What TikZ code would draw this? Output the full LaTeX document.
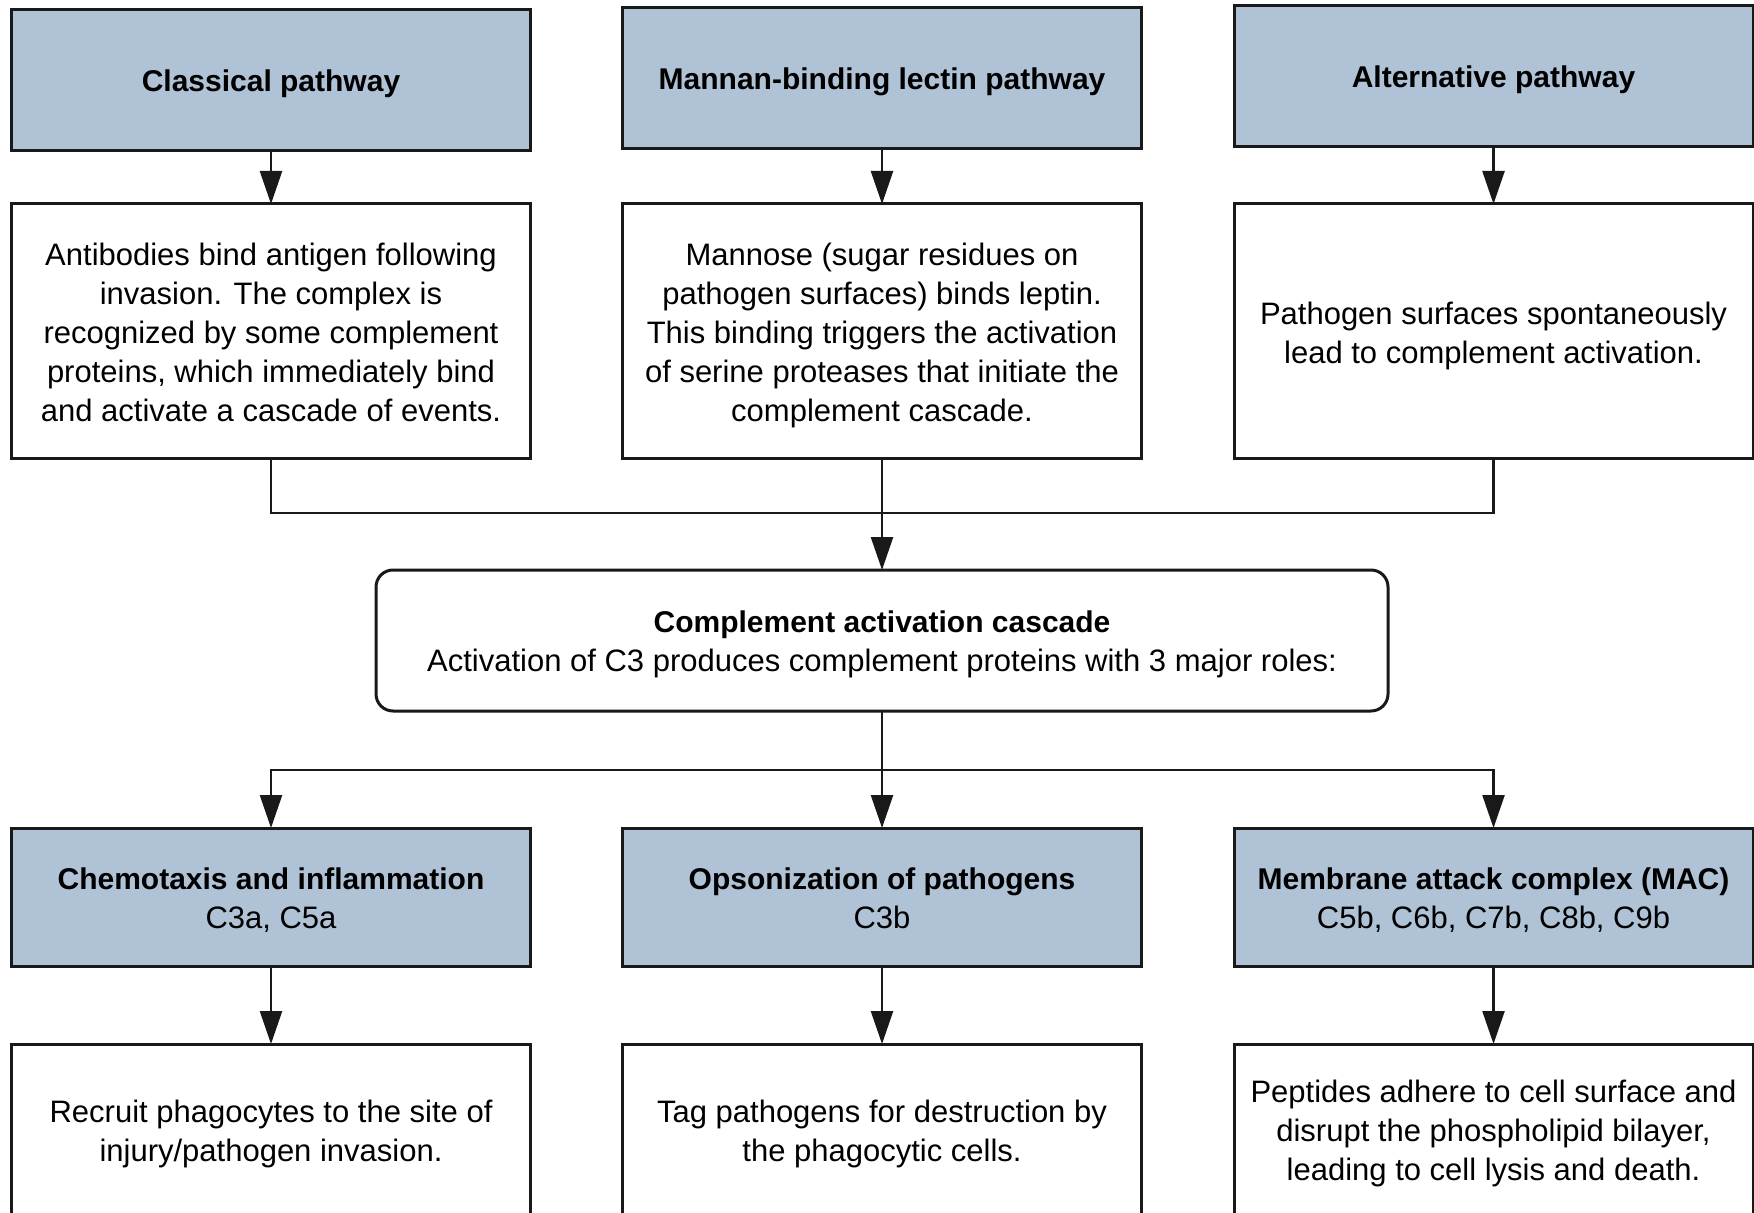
\documentclass[tikz,border=0pt]{standalone}
\usepackage{fontspec}
\setmainfont{Liberation Sans}
\usetikzlibrary{arrows.meta}
\definecolor{hdrblue}{RGB}{175,194,214}
\definecolor{edge}{RGB}{25,25,25}
\newcommand{\hbf}[1]{{\bfseries\fontsize{15pt}{19.5pt}\selectfont #1}}
\newcommand{\lw}[2][-2pt]{\raisebox{#1}[\height][\depth]{\begin{tabular}{@{}c@{}}#2\end{tabular}}}
\begin{document}
\begin{tikzpicture}[x=0.5pt,y=-0.5pt,
  every node/.style={inner sep=0pt, outer sep=0pt, align=center, font=\fontsize{15.5pt}{19.5pt}\selectfont},
  hdr/.style={draw=edge, line width=1.5pt, fill=hdrblue, minimum width=259.5pt, minimum height=70.5pt},
  txt/.style={draw=edge, line width=1.5pt, fill=white, minimum width=259.5pt, minimum height=127.5pt},
  role/.style={draw=edge, line width=1.5pt, fill=hdrblue, minimum width=259.5pt, minimum height=69pt},
  res/.style={draw=edge, line width=1.5pt, fill=white, minimum width=259.5pt, minimum height=87pt},
  casc/.style={draw=edge, line width=1.5pt, fill=white, rounded corners=8.5pt, minimum width=506pt, minimum height=70.5pt},
  conn/.style={draw=edge, line width=1.2pt},
  arr/.style={conn, -{Triangle[length=16.5pt,width=11pt]}}
]
\useasboundingbox[fill=white] (0,0) rectangle (1754,1213);

% top row
\node[hdr] (h1) at (271,80.5) {\lw[-1.5pt]{\hbf{Classical pathway}}};
\node[hdr] (h2) at (882,78.5) {\lw[-1.5pt]{\hbf{Mannan-binding lectin pathway}}};
\node[hdr] (h3) at (1493.5,76.5) {\lw[-1.5pt]{\hbf{Alternative pathway}}};

% second row
\node[txt] (t1) at (271,331.5) {\lw[-2.2pt]{Antibodies bind antigen following\\invasion. The complex is\\recognized by some complement\\proteins, which immediately bind\\and activate a cascade of events.}};
\node[txt] (t2) at (882,331.5) {\lw[-2.2pt]{Mannose (sugar residues on\\pathogen surfaces) binds leptin.\\This binding triggers the activation\\of serine proteases that initiate the\\complement cascade.}};
\node[txt] (t3) at (1493.5,331.5) {\lw[-2.5pt]{Pathogen surfaces spontaneously\\lead to complement activation.}};

% cascade
\node[casc] (cas) at (882,640.5) {\lw{\hbf{Complement activation cascade}\\Activation of C3 produces complement proteins with 3 major roles:}};

% third row
\node[role] (r1) at (271,897) {\lw[-2.2pt]{\hbf{Chemotaxis and inflammation}\\C3a, C5a}};
\node[role] (r2) at (882,897) {\lw[-2.2pt]{\hbf{Opsonization of pathogens}\\C3b}};
\node[role] (r3) at (1493.5,897) {\lw[-2.2pt]{\hbf{Membrane attack complex (MAC)}\\C5b, C6b, C7b, C8b, C9b}};

% bottom row
\node[res] (b1) at (271,1131) {\lw[-1.5pt]{Recruit phagocytes to the site of\\injury/pathogen invasion.}};
\node[res] (b2) at (882,1131) {\lw[-1.5pt]{Tag pathogens for destruction by\\the phagocytic cells.}};
\node[res] (b3) at (1493.5,1131) {\lw[-1.5pt]{Peptides adhere to cell surface and\\disrupt the phospholipid bilayer,\\leading to cell lysis and death.}};

% connectors
\draw[arr] (h1) -- (t1);
\draw[arr] (h2) -- (t2);
\draw[arr] (h3) -- (t3);

\coordinate (jn) at (882,513);
\draw[conn] (t1.south) |- (jn) -| (t3.south);
\draw[arr] (t2.south) -- (cas.north);

\coordinate (sp) at (882,770);
\draw[conn] (cas.south) -- (sp);
\draw[arr] (sp) -| (r1.north);
\draw[arr] (sp) -| (r3.north);
\draw[arr] (sp) -- (r2.north);

\draw[arr] (r1) -- (b1);
\draw[arr] (r2) -- (b2);
\draw[arr] (r3) -- (b3);
\end{tikzpicture}
\end{document}
